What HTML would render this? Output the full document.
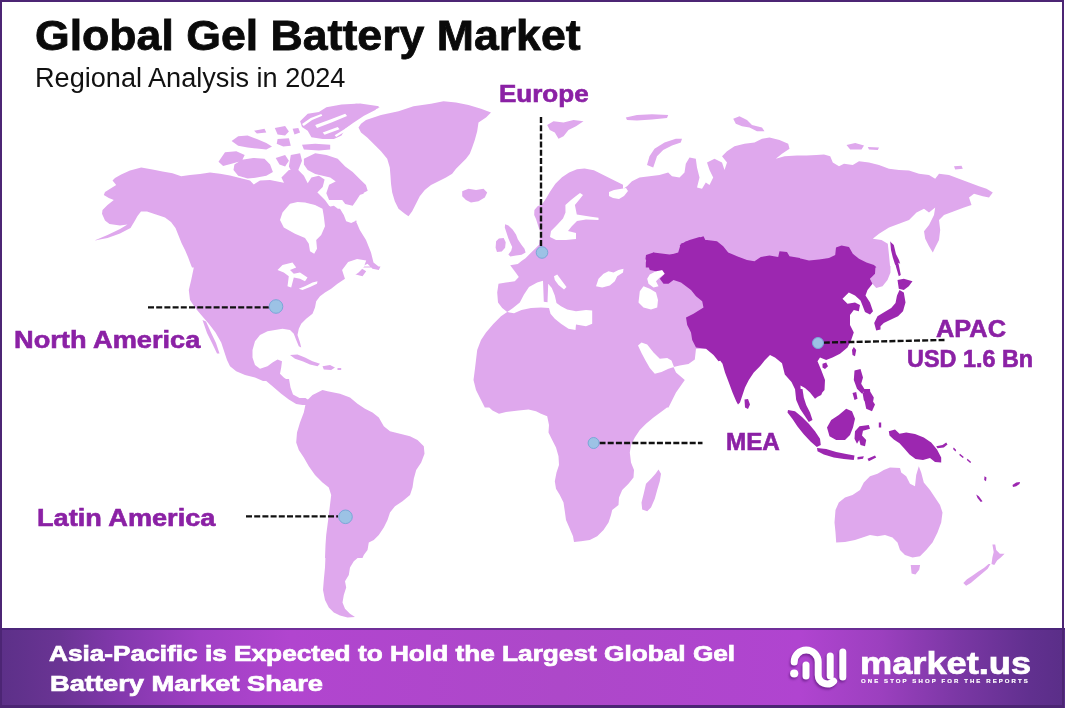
<!DOCTYPE html>
<html><head><meta charset="utf-8">
<style>
html,body{margin:0;padding:0;}
body{width:1065px;height:708px;position:relative;overflow:hidden;background:#fff;font-family:"Liberation Sans",sans-serif;}
#frame{z-index:5;position:absolute;left:0;top:0;width:1060px;height:702.5px;border-style:solid;border-color:#4c2574;border-width:2px 2px 3.5px 2px;border-right-width:2px;margin-right:1px;box-sizing:content-box;}
.t{position:absolute;-webkit-text-stroke:0.4px currentColor;font-weight:bold;line-height:1;white-space:nowrap;transform-origin:0 0;color:#0a0a0a;}
.lbl{color:#8b21a5;-webkit-text-stroke-width:0.6px;}
.ft{color:#fff;-webkit-text-stroke-width:0.7px;}
#title{-webkit-text-stroke-width:0.8px;}
#footer{position:absolute;left:0;top:628px;width:1065px;height:80px;background:linear-gradient(90deg,#5c3088 0px,#6a3494 60px,#8338ad 120px,#a040c4 200px,#b145cf 290px,#ad48c9 560px,#b044d0 800px,#9c40bf 880px,#7a37a4 960px,#61308f 1030px,#5a2e88 1065px);border-top:2px solid rgba(60,30,110,.55);box-sizing:border-box;}
#map{position:absolute;left:0;top:0;}
</style></head><body>
<svg id="map" width="1065" height="708" viewBox="0 0 1065 708">
<g id="land" fill="#dfa8ed"><path d="M94.5 240.5L107.5 235.0L120.0 229.0L127.5 224.5L120.0 225.5L109.5 224.0L105.0 220.5L102.0 213.8L102.5 210.0L107.5 205.0L113.8 200.0L108.8 198.0L103.8 195.0L105.0 192.0L116.2 185.0L112.5 180.5L115.0 178.0L121.2 174.5L130.0 170.5L141.2 167.5L152.5 169.5L162.5 171.5L172.5 173.2L181.2 176.2L190.0 175.0L200.0 174.0L210.0 172.5L220.0 173.8L230.0 175.5L240.0 178.0L250.0 180.5L253.8 184.5L260.0 180.5L270.0 180.0L280.0 182.0L290.0 184.0L298.8 185.5L305.0 188.8L315.0 190.0L325.0 200.0L330.0 207.0L340.0 208.8L343.8 215.0L346.2 221.2L351.2 223.0L356.5 220.5L356.5 267.5L192.0 267.5L190.5 263.8L188.0 257.0L185.0 250.0L181.5 243.0L178.5 235.5L175.5 228.0L171.0 222.0L165.0 217.5L156.0 214.5L147.0 211.5L141.0 211.5L137.5 216.0L135.0 220.5L130.5 228.0L120.0 233.5L107.5 238.0Z M218.5 161.7L225.0 152.3L236.3 151.3L244.7 155.1L241.9 160.7L232.5 163.5L223.1 166.0Z M234.4 164.5L241.9 159.8L253.2 157.9L264.5 158.8L270.1 164.5L272.9 172.0L266.3 175.8L256.9 177.6L247.6 178.6L238.2 175.8L233.5 170.1Z M231.6 141.0L238.2 136.3L247.6 135.4L256.9 139.1L266.3 142.9L272.0 146.6L266.3 149.5L256.9 148.5L247.6 147.6L238.2 145.7Z M254.1 130.7L264.5 128.8L266.3 132.6L256.9 133.5Z M274.8 127.9L285.1 126.0L288.9 131.6L285.1 135.4L277.6 134.4Z M277.6 139.1L288.9 138.2L290.8 145.7L283.2 146.6L276.7 143.8Z M292.6 128.8L298.3 127.9L300.1 132.6L294.5 134.4Z M302.0 144.8L315.2 143.8L330.2 144.8L330.2 149.5L318.9 150.4L303.9 149.5Z M300.1 121.3L307.7 113.8L318.9 111.9L326.4 107.2L341.5 104.4L360.2 103.5L379.0 106.3L375.3 110.0L364.0 115.7L352.7 123.2L345.2 128.8L341.5 135.4L333.9 139.1L322.7 139.1L311.4 137.3L307.7 130.7L302.0 126.9Z M275.7 157.9L285.1 155.1L288.9 160.7L285.1 166.4L279.5 164.5Z M290.8 155.1L300.1 153.2L302.0 160.7L298.3 170.1L292.6 173.9L288.9 166.4Z M303.9 158.8L315.2 153.2L326.4 155.1L337.7 158.8L345.2 166.4L352.7 172.0L360.2 179.5L365.9 185.1L367.7 190.8L360.2 194.5L356.5 200.2L352.7 205.8L345.2 203.9L339.6 196.4L341.5 188.9L335.8 181.4L330.2 177.6L322.7 175.8L315.2 173.9L307.7 170.1L303.9 164.5Z M324.6 207.7L333.9 205.8L341.5 211.4L345.2 218.9L347.1 228.0L322.7 228.0L322.7 217.1Z M281.4 177.6L288.9 170.1L298.3 170.1L303.9 175.8L307.7 183.3L311.4 177.6L318.9 175.8L324.6 179.5L322.7 187.0L317.0 192.7L315.2 200.2L307.7 198.3L300.1 194.5L292.6 190.8L285.1 185.1Z M669.0 406.0L661.0 412.0L653.5 417.5L646.0 423.8L639.8 430.0L634.8 437.5L631.0 445.0L629.8 452.5L631.0 462.5L634.0 470.0L633.5 477.5L628.5 483.8L622.2 490.0L619.0 497.5L618.5 505.0L612.2 510.0L611.0 515.0L608.5 522.5L603.5 530.0L597.2 536.2L589.8 540.0L581.0 541.2L574.0 542.0L573.0 536.2L569.8 528.8L566.0 520.0L564.8 511.2L563.5 502.5L559.8 495.0L556.0 488.8L554.8 481.2L556.5 472.5L559.0 465.0L558.5 456.2L556.0 447.5L552.2 440.0L548.5 432.5L549.0 425.0L547.2 416.2L541.0 413.8L536.0 411.2L528.5 409.5L518.5 410.5L506.0 412.0L499.0 413.8L492.5 410.5L486.5 405.0L484.0 402.5Z M658.5 469.5L661.0 473.8L659.8 481.2L657.2 490.0L654.8 498.8L651.0 507.5L647.2 511.2L642.2 509.5L641.5 502.5L644.0 492.5L646.0 483.8L651.0 478.8L655.5 473.8Z M875.0 266.0L890.5 266.0L890.5 272.5L887.5 280.0L882.5 286.2L876.2 288.0L872.5 283.8L870.0 278.8L873.8 273.8Z M355.5 103.8L368.5 105.0L379.8 107.5L371.0 111.2L361.0 115.0L355.5 116.2Z M366.0 120.0L381.0 115.0L398.5 111.2L413.5 106.2L431.0 103.8L443.5 101.2L456.0 102.5L468.5 105.0L481.0 108.8L491.0 112.5L486.0 117.5L478.5 122.5L477.2 131.2L474.8 140.0L472.2 147.5L469.8 153.8L466.0 158.8L461.0 163.8L456.0 168.8L452.2 173.8L446.0 177.5L438.5 181.2L431.0 185.0L424.8 190.0L419.8 196.2L416.0 203.8L412.2 211.2L408.5 216.2L404.8 213.8L398.5 208.8L394.8 201.2L392.2 192.5L391.0 183.8L390.5 176.2L389.8 167.5L387.2 158.8L381.0 151.2L373.5 143.8L367.2 137.5L361.0 132.5L358.5 127.5L361.0 123.8Z M355.5 180.0L362.2 181.2L365.5 187.5L363.5 193.8L355.5 196.2Z M355.5 220.0L359.8 230.0L366.0 240.0L371.0 252.5L373.5 262.5L379.8 267.5L355.5 267.5Z M462.2 191.2L468.5 188.8L476.0 190.0L483.5 188.8L487.2 192.5L484.8 197.5L478.5 201.2L471.0 202.5L466.0 200.0L462.2 196.2Z M505.1 224.2L508.4 225.6L512.6 229.4L516.0 234.6L517.8 239.3L521.6 245.0L524.5 248.8L525.6 252.6L521.6 254.7L516.0 255.6L510.3 256.5L508.4 254.5L511.2 250.7L512.2 246.9L510.3 243.1L508.4 238.4L506.5 232.7L504.8 227.5Z M496.1 241.2L498.9 238.4L503.7 237.9L505.7 242.2L505.1 247.8L501.8 251.6L497.0 252.1L495.6 247.8Z M547.2 125.0L553.5 121.2L563.5 122.5L573.5 120.0L583.5 121.2L576.0 126.2L568.5 130.0L563.5 136.2L558.5 138.8L554.8 132.5L549.8 130.0Z M621.5 190.0L627.0 186.2L632.0 181.2L639.5 177.5L649.5 176.2L659.5 175.0L668.2 172.5L672.0 176.2L679.5 177.5L684.5 172.5L685.8 163.8L689.5 157.5L695.8 158.8L697.0 167.5L699.5 177.5L697.0 187.5L702.0 188.8L705.8 182.5L709.5 185.0L713.2 177.5L709.5 170.0L707.0 162.5L714.5 158.8L722.0 162.5L724.5 170.0L727.0 162.5L722.0 156.2L727.0 151.2L734.5 146.2L744.5 143.8L754.5 142.5L762.0 138.8L769.5 137.5L779.5 140.0L788.2 143.8L789.5 148.8L782.0 153.8L775.8 158.8L784.5 156.2L797.0 155.5L800.0 155.5L800.0 267.5L621.5 267.5Z M647.0 165.0L649.5 156.2L654.5 148.8L664.5 142.5L675.8 138.8L682.0 138.8L680.8 142.5L672.0 145.5L663.2 150.0L657.0 156.2L654.5 163.8L653.2 167.5Z M625.8 117.5L637.0 115.0L652.0 114.2L668.2 115.0L667.0 118.0L652.0 119.5L637.0 120.5L627.0 120.0Z M733.2 118.8L739.5 116.2L747.0 120.0L752.0 125.0L762.0 127.5L764.5 131.2L757.0 131.2L749.5 127.5L742.0 126.2L735.8 123.8Z M798.5 155.5L806.5 155.5L816.5 155.0L824.0 154.5L830.2 156.2L832.8 162.5L839.0 166.2L844.0 163.8L852.8 165.0L859.0 161.2L869.0 162.5L879.0 165.0L889.0 168.8L899.0 170.0L909.0 170.5L919.0 173.8L929.0 175.0L935.2 178.8L939.0 173.8L949.0 175.0L959.0 178.8L969.0 182.5L979.0 186.2L986.5 188.8L992.8 192.5L989.0 197.5L982.8 196.2L974.0 193.8L969.0 197.5L971.5 205.0L964.0 207.5L954.0 211.2L944.0 215.0L939.0 220.0L940.2 230.0L939.0 240.0L935.2 247.5L932.8 252.5L929.0 246.2L925.2 238.8L924.0 231.2L929.0 225.0L934.0 215.0L935.2 207.5L929.0 212.5L924.0 208.8L916.5 212.5L909.0 220.0L899.0 223.8L889.0 227.5L879.0 233.8L872.8 238.8L881.5 240.0L887.8 243.8L889.0 255.0L890.2 267.5L798.5 267.5Z M846.5 145.0L855.2 143.0L864.0 145.5L861.5 149.5L850.2 149.5Z M867.8 147.0L879.0 147.5L877.8 150.0L869.0 149.5Z M954.0 166.2L961.5 165.8L962.8 168.8L955.2 169.5Z M534.2 215.0L534.4 210.1L537.6 206.3L542.3 204.1L546.0 198.5L550.3 191.3L555.4 183.8L562.0 177.2L569.1 172.5L577.0 169.2L584.5 168.4L593.9 170.3L601.4 174.0L608.9 177.8L616.4 181.5L623.0 184.7L623.0 231.0L540.0 231.0L539.0 228.6L536.0 219.0Z M722.5 229.5L722.5 348.8L696.0 348.8L694.8 359.5L688.5 364.0L679.8 365.5L673.5 367.0L676.0 372.5L684.8 380.0L676.0 392.5L671.0 402.5L668.5 407.5L484.8 407.5L481.0 400.0L476.0 390.0L473.5 380.0L474.8 370.0L476.0 360.0L477.2 350.0L481.0 340.0L486.0 332.5L493.5 323.8L501.0 316.2L507.2 312.0L502.2 308.0L498.0 302.5L497.2 292.5L498.5 283.8L506.0 282.5L514.8 281.2L518.8 277.0L516.0 273.0L513.0 269.0L510.2 265.2L517.8 264.0L521.5 261.0L525.5 258.2L529.2 254.5L533.0 250.8L535.8 248.0L539.0 244.8L540.2 236.2L542.2 229.5Z M380.5 266.5L378.8 270.0L372.5 268.8L367.5 263.8L360.0 267.5L366.2 271.2L362.5 276.2L350.0 273.0L345.0 278.8L337.5 283.8L331.2 288.8L325.0 292.5L320.0 296.2L316.2 301.2L315.0 307.5L312.5 313.8L306.2 318.8L301.2 323.8L298.8 328.8L297.5 335.0L300.0 342.5L301.2 347.5L298.8 346.2L296.2 340.0L293.8 333.8L290.0 330.0L282.5 328.8L275.0 330.0L267.5 331.2L260.0 335.0L255.0 341.2L252.5 350.0L252.5 357.5L255.0 365.0L260.0 368.8L267.5 366.2L272.5 362.5L277.5 359.5L282.0 361.2L281.2 367.5L280.0 373.8L283.8 377.5L289.0 381.0L263.0 381.0L255.0 377.5L245.0 375.0L236.2 371.2L230.0 366.2L227.0 360.0L224.5 352.5L221.2 342.5L215.5 332.5L208.8 323.8L201.2 315.0L195.0 307.5L190.0 300.0L188.8 290.0L191.2 280.0L194.0 266.5Z M202.5 320.0L206.0 321.5L211.0 332.5L216.0 343.0L219.5 353.5L217.0 353.5L212.0 343.0L207.0 333.0Z M290.0 355.0L297.5 354.5L305.0 357.5L312.5 361.2L320.0 363.8L317.5 366.2L310.0 364.5L302.5 361.2L295.0 358.8Z M322.5 366.2L330.0 365.0L335.0 367.5L331.2 370.0L323.8 369.5Z M337.5 368.0L341.2 368.0L341.2 370.0L337.5 370.0Z M910.7 565.1L920.1 565.1L919.2 569.8L915.4 574.5L911.6 573.5Z M992.4 544.4L995.2 544.4L996.2 550.0L999.9 553.8L1004.6 553.8L1000.8 557.6L997.1 560.4L994.3 565.1L991.5 564.1L992.4 557.6L993.7 551.9Z M990.5 564.1L987.7 568.8L982.1 573.5L976.4 578.2L970.8 582.9L966.1 585.7L963.3 582.9L967.0 579.2L972.7 575.4L978.3 571.6L983.9 567.9L988.6 564.1Z M836.2 542.5L835.5 532.5L834.5 522.5L835.5 510.0L838.8 502.5L845.0 497.5L852.5 495.0L860.0 490.0L863.8 482.5L870.0 476.2L877.5 473.8L883.8 470.0L890.0 467.5L900.0 468.0L901.2 472.5L906.2 476.2L910.0 483.8L915.0 486.2L916.2 475.0L918.8 466.2L921.2 472.5L923.8 482.5L930.0 490.0L935.0 497.5L940.0 505.0L942.5 512.5L941.2 522.5L937.5 532.5L932.5 542.5L926.2 550.0L920.0 556.2L912.5 557.5L905.0 555.0L900.0 550.0L897.5 542.5L892.5 537.5L885.0 535.0L877.5 536.2L870.0 535.0L862.5 537.5L855.0 540.0L845.0 542.0Z M289.0 379.0L290.5 387.5L293.0 394.5L299.5 398.0L305.5 398.0L310.0 401.2L307.0 403.8L302.5 405.0L296.2 404.0L288.8 399.5L281.2 393.8L272.5 386.2L263.8 379.0Z M306.2 401.2L312.5 395.0L322.5 390.0L327.5 391.2L340.0 393.8L350.0 397.5L357.5 403.8L365.0 408.8L372.5 412.5L378.8 417.5L383.8 426.2L390.0 431.2L400.0 433.8L410.0 436.2L417.5 440.0L423.8 446.2L424.5 453.8L421.2 462.5L416.2 470.0L413.8 478.8L412.5 487.5L410.0 495.0L402.5 501.2L395.0 506.2L390.0 512.5L387.5 520.0L383.8 527.5L378.8 535.0L373.8 540.0L368.8 542.5L367.5 550.0L363.8 555.0L362.5 558.0L325.0 558.0L325.5 545.0L326.2 535.0L327.5 525.0L328.8 515.0L330.0 505.0L331.2 495.0L328.8 487.5L322.5 482.5L315.0 475.0L308.8 466.2L303.8 457.5L298.8 450.0L296.2 442.5L297.0 432.5L300.0 422.5L303.8 412.5Z M360.5 555.5L353.8 561.2L350.0 567.5L348.8 575.0L345.0 581.2L346.2 587.5L343.8 595.0L342.5 602.5L345.0 608.8L350.0 613.8L355.0 617.0L347.5 617.5L340.0 615.5L333.8 612.5L328.8 607.5L325.0 600.0L323.0 590.0L323.8 580.0L325.0 567.5L325.5 555.5Z M329.1 184.7L337.6 180.5L343.2 187.6L346.0 200.0L329.1 200.0L326.3 193.2Z"/></g>
<g id="holes" fill="#fff"><path d="M297.5 202.0L305.0 202.5L315.0 205.0L322.5 208.8L323.8 216.2L325.0 226.2L321.2 235.0L316.2 240.0L317.0 248.8L314.2 253.8L310.0 251.2L308.8 243.8L305.0 238.0L295.0 233.8L283.8 227.5L280.0 220.0L282.5 212.5L290.0 203.8Z M315.2 125.0L330.2 119.4L345.2 113.8L347.1 116.0L332.1 122.2L317.0 127.9Z M322.7 132.6L337.7 126.9L339.6 129.2L324.6 134.8Z M565.4 205.0L571.0 200.0L576.0 196.0L580.0 193.0L583.0 195.0L579.0 200.0L574.9 205.0L576.8 214.5L591.0 216.8L598.5 217.8L598.5 220.0L586.0 219.5L577.0 221.0L572.0 226.0L568.0 231.0L576.0 233.0L576.0 239.0L566.0 240.0L556.0 240.0L550.0 237.0L551.0 231.0L557.0 225.0L563.0 218.5L565.5 212.6Z M609.0 192.0L614.0 190.0L620.0 189.0L626.0 188.0L628.0 191.0L624.0 196.0L619.0 199.0L613.0 198.0L609.0 196.0Z M507.2 312.0L513.0 308.0L519.8 302.5L524.0 294.5L529.0 287.0L537.2 282.5L543.0 280.8L543.8 301.8L547.5 302.2L548.2 283.8L551.8 288.0L554.8 295.5L556.5 303.0L561.0 306.2L567.2 309.5L576.0 311.2L586.0 310.0L592.2 310.5L592.2 323.8L586.0 326.2L576.0 324.5L575.5 330.0L568.5 328.8L561.0 323.8L554.8 318.8L550.5 313.8L549.0 308.0L541.0 307.5L531.0 308.0L521.5 310.0L514.0 313.2Z M554.0 276.2L557.2 274.5L562.2 281.2L566.5 287.0L564.0 289.5L558.5 285.0L554.8 280.0Z M596.0 286.2L598.5 278.8L603.5 273.8L608.5 271.2L613.5 272.5L618.5 270.0L623.5 268.8L623.0 272.5L617.2 276.2L614.8 281.2L609.8 285.5L602.2 287.5Z M647.2 278.8L649.8 274.5L656.0 271.2L662.2 270.0L664.8 273.8L659.8 277.5L656.0 281.2L658.5 286.2L653.5 287.5L648.5 283.8Z M638.5 302.5L639.8 291.2L643.5 286.2L649.8 288.8L656.0 292.5L658.0 300.0L657.2 307.5L651.0 309.5L643.5 307.5Z M638.0 345.5L641.5 342.5L647.2 344.5L653.5 352.5L659.8 358.8L667.2 358.0L671.5 360.5L674.0 367.0L668.5 368.8L661.5 372.0L654.8 373.8L649.8 368.0L645.5 360.5L641.5 353.0Z M277.5 270.0L282.5 265.0L292.5 262.5L296.2 267.5L290.0 270.0L293.8 273.8L300.0 272.5L307.5 277.5L305.0 281.2L300.0 278.8L293.8 277.5L291.2 287.5L287.5 286.2L288.8 276.2L283.8 272.5Z M298.8 288.8L305.0 286.2L312.5 282.5L317.5 281.2L317.0 283.8L310.0 287.0L302.5 290.0Z M342.1 270.1L348.1 261.9L357.1 258.9L366.2 260.4L363.9 267.1L358.6 272.4L351.1 277.7L345.1 279.2L343.6 274.7Z M302.0 124.0L310.7 118.1L321.3 114.1L322.3 115.8L312.1 120.1L303.7 126.0Z M334.7 135.3L346.0 128.2L357.3 121.2L358.5 122.6L347.5 129.9L336.2 137.0Z"/></g>
<g id="apac" fill="#9c27b0"><path d="M720.0 266.0L875.5 266.0L875.0 273.8L870.0 278.8L872.5 283.8L867.5 290.0L865.5 295.5L870.0 302.5L873.0 311.2L870.0 314.5L865.0 312.0L862.5 305.5L860.5 300.5L855.0 295.5L848.8 292.5L842.5 298.8L847.5 303.8L855.0 302.5L860.0 305.0L858.8 311.2L853.8 310.0L850.0 315.0L850.0 325.0L853.8 332.5L851.2 340.0L847.5 347.5L840.0 353.8L832.5 357.5L826.2 360.0L820.0 357.5L817.5 361.2L821.2 370.0L825.0 380.0L824.5 390.0L820.0 395.0L815.0 398.8L810.0 392.5L805.0 388.0L800.5 385.5L800.8 395.0L803.8 402.5L805.0 408.0L800.5 408.0L798.0 400.8L796.0 391.2L791.5 382.0L784.8 374.5L782.0 363.2L775.0 357.5L770.0 355.0L765.0 360.0L760.0 366.2L753.8 372.5L748.8 380.0L745.0 387.5L742.5 395.0L740.0 402.5L738.0 404.5L736.2 401.2L732.5 392.5L728.8 382.5L725.0 372.5L722.5 363.8L718.8 358.8L720.0 355.0Z M822.5 363.8L826.2 362.5L828.0 366.2L825.0 369.0L822.5 367.5Z M853.8 347.0L856.2 350.0L855.0 356.2L852.5 355.0L852.0 350.0Z M891.2 242.5L893.8 245.0L896.2 255.0L898.8 265.0L900.8 275.0L898.8 276.2L896.2 267.5L893.8 257.5L891.2 248.8Z M897.5 280.0L903.8 278.8L912.5 281.2L908.8 286.2L903.8 290.0L898.8 288.8Z M899.5 290.0L903.8 292.5L905.5 302.5L903.0 311.2L898.0 316.2L890.0 320.0L883.8 323.0L880.5 326.2L880.5 329.5L876.2 330.5L874.2 323.0L877.5 316.2L884.5 312.0L891.2 308.0L895.5 303.0L897.0 295.5Z M744.5 399.5L748.0 399.0L750.0 404.5L748.0 409.0L745.0 407.5Z M854.5 370.5L860.5 369.0L863.0 377.5L861.2 383.8L865.0 390.0L862.0 393.8L857.0 388.8L853.8 380.0Z M862.5 392.5L870.0 391.2L873.8 397.5L872.5 405.0L867.5 406.2L863.8 400.0Z M645.8 267.5L645.8 262.5L647.0 256.2L653.2 252.5L662.0 253.8L669.5 255.0L678.2 252.5L680.8 243.8L689.5 240.0L699.5 237.0L707.0 240.0L717.0 241.2L723.2 246.2L728.2 252.5L737.0 256.2L747.0 260.0L754.5 261.2L760.8 257.0L769.5 255.5L778.2 257.0L779.5 251.2L787.0 252.0L789.5 256.2L797.0 257.5L800.0 258.0L800.0 267.5Z M890.2 241.2L892.8 245.0L895.2 252.5L899.0 260.0L900.2 263.8L897.8 262.5L895.2 265.0L892.8 257.5L891.0 250.0Z M798.5 258.0L809.0 260.5L819.0 259.5L829.0 258.0L835.2 255.0L836.0 247.5L841.5 245.5L849.0 247.0L852.8 253.8L859.0 258.8L866.5 262.5L874.0 265.0L876.5 267.5L798.5 267.5Z M646.0 255.0L653.5 252.5L663.5 253.8L673.5 255.0L681.0 252.5L679.8 245.0L686.0 241.2L696.0 238.8L703.5 236.2L706.0 241.2L716.0 245.5L722.5 249.5L722.5 360.0L718.5 361.2L713.5 355.0L706.0 348.8L696.0 347.5L692.2 340.0L691.0 332.5L687.2 325.0L686.0 317.5L693.5 313.8L703.5 307.5L702.2 301.2L696.0 296.2L691.0 290.0L686.0 286.2L681.0 282.5L673.5 280.0L668.5 283.8L663.5 283.8L659.8 278.8L664.8 273.8L662.2 270.0L656.0 271.2L649.8 270.0L647.2 263.8L645.5 258.8Z M788.0 410.0L795.0 411.2L802.0 417.0L808.8 423.8L815.0 431.2L820.0 438.8L820.8 445.0L816.8 447.0L810.5 441.5L803.5 434.0L797.5 426.5L792.5 419.0L787.5 412.5Z M795.0 389.0L802.5 389.0L803.8 397.5L806.2 405.0L810.0 412.5L812.5 420.0L808.8 422.0L805.0 416.2L800.0 408.8L796.2 400.0Z M807.5 389.0L823.8 389.0L821.2 395.0L816.2 397.5L811.2 393.8Z M817.0 448.0L826.2 449.0L836.2 452.0L846.2 454.0L854.5 455.5L853.8 460.0L843.8 459.0L833.8 457.5L823.8 454.5L817.5 451.2Z M857.5 457.0L863.8 456.2L863.0 458.8L857.5 459.5Z M867.5 458.8L875.0 455.5L876.2 457.5L868.8 461.2Z M827.0 427.5L831.2 420.0L838.8 415.0L846.2 408.8L852.0 411.2L855.0 418.8L853.0 427.5L850.0 435.0L845.0 440.0L836.2 440.0L829.5 436.2Z M855.0 431.2L859.5 426.2L868.8 425.0L870.0 428.8L863.0 430.8L862.0 435.5L866.2 440.0L865.0 446.2L860.5 445.0L859.2 440.0L857.0 443.8L854.5 438.8Z M863.8 389.0L870.0 389.0L870.5 395.0L866.2 396.2L863.8 392.5Z M864.5 400.5L871.2 398.8L875.0 404.5L872.0 411.2L866.2 408.8Z M852.5 393.0L856.2 392.0L857.5 398.8L854.5 400.0Z M878.8 422.5L881.2 422.5L881.2 427.5L878.8 427.5Z M888.8 431.2L895.0 429.5L899.5 433.8L906.2 432.5L915.0 434.0L923.8 437.5L931.2 442.5L937.0 449.5L941.2 457.5L941.2 462.5L935.0 462.0L930.0 458.0L923.0 460.0L915.5 459.0L909.5 454.5L904.5 448.8L899.5 443.2L893.8 439.5L889.5 435.5Z M936.2 446.2L942.5 445.0L946.2 442.5L947.5 444.5L943.8 447.5L937.5 448.2Z M953.8 447.5L956.2 450.0L955.5 451.5L953.0 449.0Z M960.0 453.8L963.8 457.0L962.8 458.0L959.2 455.0Z M967.5 458.8L971.2 462.0L970.2 463.0L966.8 460.0Z M984.5 476.2L986.5 477.5L986.0 481.2L984.2 480.0Z M976.2 494.5L978.8 496.2L982.5 501.2L980.8 502.0L977.5 498.0Z M1012.5 485.0L1016.2 482.5L1020.0 482.0L1019.5 484.0L1016.2 486.2L1013.0 487.0Z"/></g>
<g id="marks">
<g stroke="#111" stroke-width="2.4" stroke-dasharray="6 2.2" fill="none">
<path d="M148 307.4H269"/><path d="M246 516.4H338"/><path d="M541 117V246.5"/><path d="M599.5 443H702.5"/><path d="M823.8 342.6L944.5 340"/>
</g>
<g fill="#9cc2e5" stroke="#7aa7d8" stroke-width="1">
<circle cx="276" cy="306.5" r="6.8"/><circle cx="345.5" cy="516.8" r="6.8"/><circle cx="542" cy="252.5" r="5.8"/><circle cx="593.6" cy="443" r="5.5"/><circle cx="818" cy="343" r="5.5"/>
</g></g>
</svg>
<div id="frame"></div>
<div class="t" id="title" style="left:35px;top:15px;font-size:42.3px;transform:scaleX(1.055)">Global Gel Battery Market</div>
<div class="t" id="subtitle" style="left:35.3px;top:64.5px;font-size:27px;font-weight:normal;-webkit-text-stroke:0;color:#111;transform:scaleX(1.004)">Regional Analysis in 2024</div>
<div class="t lbl" id="l-eu" style="left:498.6px;top:82px;font-size:24px;transform:scaleX(1.084)">Europe</div>
<div class="t lbl" id="l-na" style="left:14.3px;top:327.5px;font-size:24px;transform:scaleX(1.133)">North America</div>
<div class="t lbl" id="l-la" style="left:37.4px;top:506px;font-size:24px;transform:scaleX(1.13)">Latin America</div>
<div class="t lbl" id="l-mea" style="left:726.3px;top:430px;font-size:24px;transform:scaleX(1.01)">MEA</div>
<div class="t lbl" id="l-apac" style="left:935.5px;top:317px;font-size:24px;transform:scaleX(1.056)">APAC</div>
<div class="t lbl" id="l-usd" style="left:907px;top:348px;font-size:23px;transform:scaleX(1.017)">USD 1.6 Bn</div>
<div id="footer"></div>
<div class="t ft" id="f1" style="left:49px;top:643px;font-size:22px;transform:scaleX(1.1916)">Asia-Pacific is Expected to Hold the Largest Global Gel</div>
<div class="t ft" id="f2" style="left:50px;top:673px;font-size:22px;transform:scaleX(1.24)">Battery Market Share</div>
<svg id="logo" width="1065" height="708" viewBox="0 0 1065 708" style="position:absolute;left:0;top:0;filter:drop-shadow(-1px 2px 1.2px rgba(70,10,100,.5))">
<g fill="none" stroke="#fff" stroke-width="7" stroke-linecap="round" stroke-linejoin="round">
<path d="M794.2 662A12 12 0 0 1 818.2 662V675A9 9 0 0 0 833.6 681.2"/>
<path d="M806 665V676"/><path d="M830.2 656V676"/><path d="M842.8 652V677"/>
</g>
<circle cx="794.2" cy="673.5" r="4.1" fill="#fff"/>
</svg>
<div class="t ft" id="mk" style="left:859.5px;top:648.2px;font-size:31px;transform:scaleX(1.168)">market.us</div>
<div class="t ft" id="tag" style="left:861px;top:678.2px;font-size:6px;letter-spacing:2.1px;-webkit-text-stroke:0.2px #fff;">ONE STOP SHOP FOR THE REPORTS</div>
</body></html>
